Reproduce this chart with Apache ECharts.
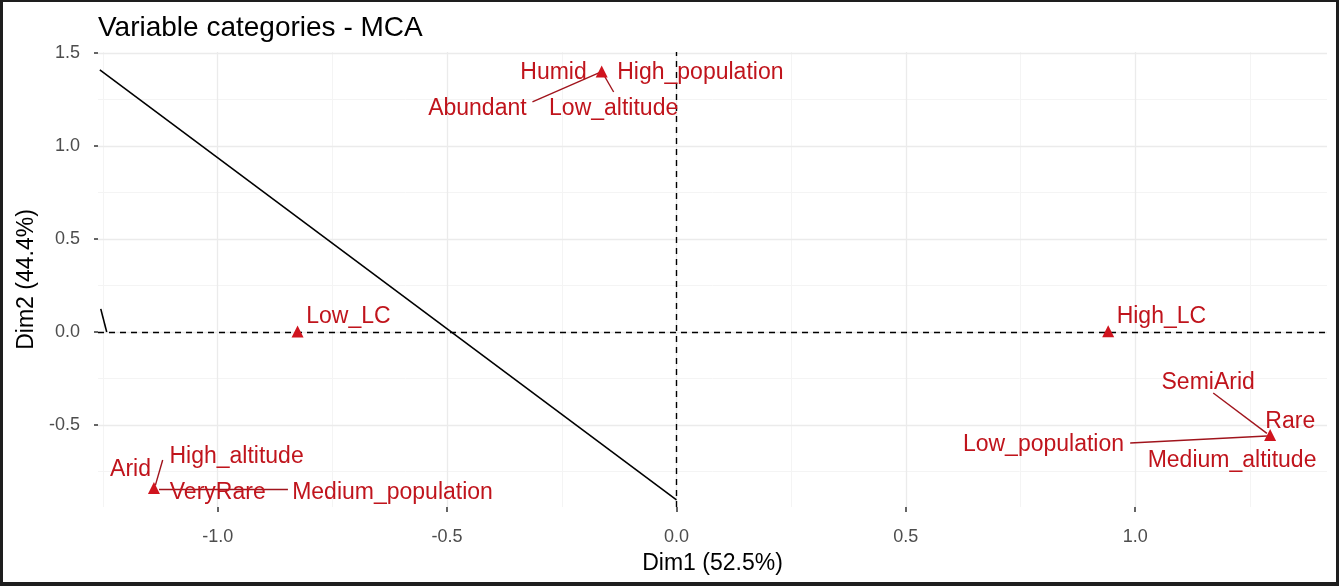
<!DOCTYPE html>
<html>
<head>
<meta charset="utf-8">
<script src="https://cdn.jsdelivr.net/npm/echarts@6.0.0/dist/echarts.min.js"></script>
<style>
  html, body { margin: 0; padding: 0; background: #1e1e1e; }
  #main { position: absolute; left: 3px; top: 2px; width: 1333px; height: 580px; background: #fff; }
</style>
</head>
<body>
<div id="main"></div>
<script>
// category points (Dim1, Dim2)
const points = [
  [-0.826, 0.002],
  [0.941, 0.004],
  [-0.163, 1.40],
  [-1.139, -0.839],
  [1.294, -0.554]
];

// labels: name, label centre x, label centre y
const labelNames = ['Humid', 'High_population', 'Abundant', 'Low_altitude', 'Low_LC', 'High_LC',
  'SemiArid', 'Rare', 'Low_population', 'Medium_altitude', 'Arid', 'High_altitude', 'VeryRare', 'Medium_population'];
const labelX = [-0.268, 0.052, -0.434, -0.137, -0.715, 1.057, 1.159, 1.338, 0.800, 1.211, -1.190, -0.959, -1.000, -0.619];
const labelY = [1.392, 1.392, 1.199, 1.199, 0.081, 0.081, -0.274, -0.484, -0.608, -0.694, -0.742, -0.672, -0.866, -0.866];

// repel connectors: from label side to its point
const connectors = [
  [[-0.314, 1.237], [-0.163, 1.40]],
  [[-0.137, 1.290], [-0.158, 1.38]],
  [[1.170, -0.328], [1.287, -0.545]],
  [[0.989, -0.597], [1.287, -0.559]],
  [[-1.120, -0.688], [-1.136, -0.825]],
  [[-0.847, -0.844], [-1.128, -0.844]]
];

// black annotation lines
const blackLines = [
  [[-1.257, 1.409], [0, -0.903]],
  [[-1.255, 0.124], [-1.242, 0.0]]
];

const xTicks = [-1.0, -0.5, 0.0, 0.5, 1.0];
const yTicks = [-0.5, 0.0, 0.5, 1.0, 1.5];
const xMinor = [-1.25, -0.75, -0.25, 0.25, 0.75, 1.25];
const yMinor = [-0.75, -0.25, 0.25, 0.75, 1.25];

const red = '#c0141c';
const gridMajor = '#ebebeb';
const gridMinor = '#f4f4f4';

const chart = echarts.init(document.getElementById('main'));

function gridLines(vals, key, color, width) {
  return vals.map(v => ({ [key]: v, lineStyle: { color: color, width: width, type: 'solid', opacity: 1 } }));
}

chart.setOption({
  animation: false,
  backgroundColor: '#fff',
  textStyle: { fontFamily: 'Liberation Sans, Arial, sans-serif' },
  title: {
    text: 'Variable categories - MCA',
    left: 90,
    top: 7,
    textStyle: { fontSize: 28, fontWeight: 'normal', color: '#000', fontFamily: 'Liberation Sans' }
  },
  grid: { left: 95, right: 9, top: 50, bottom: 75 },
  xAxis: {
    type: 'value',
    min: -1.261,
    max: 1.418,
    name: 'Dim1 (52.5%)',
    nameLocation: 'middle',
    nameGap: 45,
    nameTextStyle: { fontSize: 23, color: '#000' },
    axisLine: { show: true, onZero: false, lineStyle: { color: 'rgba(0,0,0,0)' } },
    axisTick: { show: true, length: 5, lineStyle: { color: '#333', width: 1.5 }, customValues: xTicks },
    axisLabel: { fontSize: 18, color: '#4d4d4d', margin: 21, customValues: xTicks, formatter: v => v.toFixed(1) },
    splitLine: { show: false }
  },
  yAxis: {
    type: 'value',
    min: -0.941,
    max: 1.505,
    name: 'Dim2 (44.4%)',
    nameLocation: 'middle',
    nameGap: 45,
    nameRotate: 90,
    nameTextStyle: { fontSize: 23, color: '#000' },
    axisLine: { show: true, onZero: false, lineStyle: { color: 'rgba(0,0,0,0)' } },
    axisTick: { show: true, length: 4, lineStyle: { color: '#333', width: 1.5 }, customValues: yTicks },
    axisLabel: { fontSize: 18, color: '#4d4d4d', margin: 18, customValues: yTicks, formatter: v => v.toFixed(1) },
    splitLine: { show: false }
  },
  series: [
    {
      type: 'line',
      data: [],
      silent: true,
      z: 1,
      markLine: {
        silent: true,
        symbol: 'none',
        z: 1,
        label: { show: false },
        data: [].concat(
          gridLines(xMinor, 'xAxis', gridMinor, 1),
          gridLines(yMinor, 'yAxis', gridMinor, 1),
          gridLines(xTicks, 'xAxis', gridMajor, 1.3),
          gridLines(yTicks, 'yAxis', gridMajor, 1.3)
        )
      }
    },
    {
      type: 'line',
      data: [],
      silent: true,
      z: 2,
      markLine: {
        silent: true,
        symbol: 'none',
        z: 2,
        label: { show: false },
        data: [
          { xAxis: 0, lineStyle: { color: '#000', width: 1.4, type: [6, 5], opacity: 1 } },
          { yAxis: 0, lineStyle: { color: '#000', width: 1.4, type: [6, 5], opacity: 1 } }
        ]
      }
    },
    {
      type: 'lines',
      coordinateSystem: 'cartesian2d',
      silent: true,
      z: 3,
      lineStyle: { color: '#000', width: 1.6, opacity: 1 },
      data: blackLines.map(c => ({ coords: c }))
    },
    {
      type: 'lines',
      coordinateSystem: 'cartesian2d',
      silent: true,
      z: 4,
      lineStyle: { color: '#a0141c', width: 1.4, opacity: 1 },
      data: connectors.map(c => ({ coords: c }))
    },
    {
      type: 'scatter',
      symbol: 'triangle',
      symbolSize: 12,
      z: 5,
      itemStyle: { color: '#d0141e', opacity: 1 },
      data: points
    },
    {
      type: 'scatter',
      symbolSize: 0,
      silent: true,
      z: 6,
      itemStyle: { opacity: 1 },
      data: labelNames.map((n, i) => [labelX[i], labelY[i], n]),
      label: {
        show: true,
        position: 'inside',
        formatter: p => p.data[2],
        fontSize: 23,
        color: red,
        opacity: 1,
        fontFamily: 'Liberation Sans'
      }
    }
  ]
});
</script>
</body>
</html>
